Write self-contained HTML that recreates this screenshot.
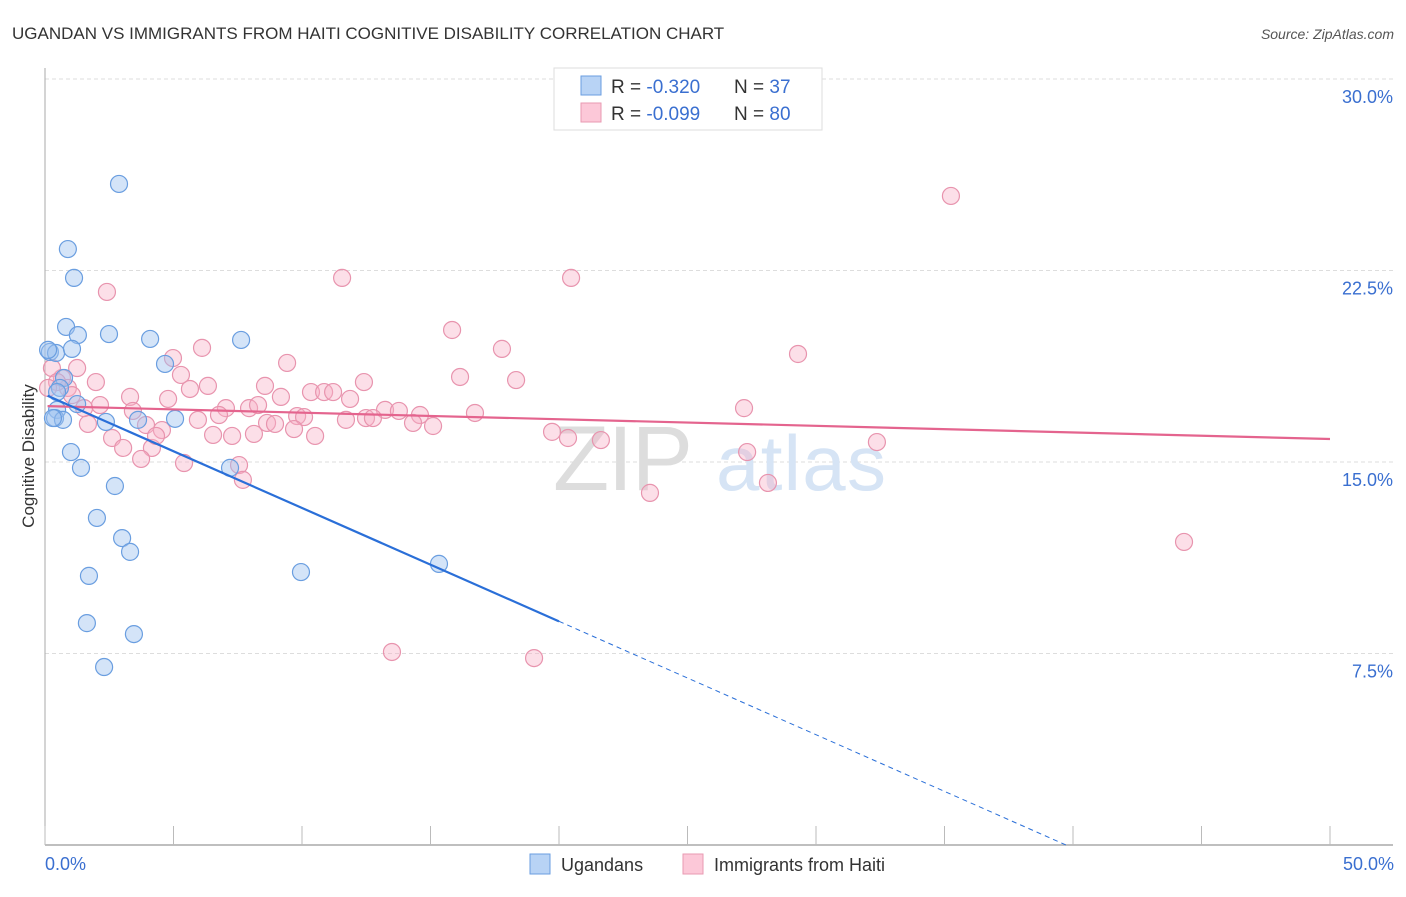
<!DOCTYPE html>
<html><head><meta charset="utf-8"><style>
body{margin:0;background:#fff;font-family:"Liberation Sans",sans-serif;}
svg text{font-family:"Liberation Sans",sans-serif;}
</style></head><body>
<svg id="chart" width="1406" height="892" viewBox="0 0 1406 892" xmlns="http://www.w3.org/2000/svg">
<text x="12" y="39" font-size="17" fill="#333">UGANDAN VS IMMIGRANTS FROM HAITI COGNITIVE DISABILITY CORRELATION CHART</text>
<text x="1394" y="39" font-size="14" fill="#555" text-anchor="end" font-style="italic">Source: ZipAtlas.com</text>
<g id="grid"></g>
<g>
<text x="553" y="490" font-size="92" font-family="Liberation Serif" fill="#ddd" textLength="140">ZIP</text>
<text x="716" y="490" font-size="78" fill="#d6e4f5" textLength="170">atlas</text>
</g>
<line x1="45" y1="68" x2="45" y2="845" stroke="#aaa" stroke-width="1"/>
<line x1="45" y1="845" x2="1393" y2="845" stroke="#aaa" stroke-width="1.5"/>
<g id="xticks"></g>
<g id="pts"></g>
<g id="lines"></g>
<text transform="translate(34,456) rotate(-90)" font-size="17" fill="#333" text-anchor="middle">Cognitive Disability</text>
<text x="45" y="870" font-size="18" fill="#3a6fd0">0.0%</text>
<text x="1394" y="870" font-size="18" fill="#3a6fd0" text-anchor="end">50.0%</text>
<g>
<rect x="554" y="68" width="268" height="62" fill="#fff" stroke="#ddd"/>
<rect x="581" y="76" width="20" height="19" fill="#b8d3f5" stroke="#6a9ee0"/>
<rect x="581" y="103" width="20" height="19" fill="#fcc8d8" stroke="#e89ab2"/>
<text x="611" y="93" font-size="19" fill="#333">R = <tspan fill="#3a6fd0">-0.320</tspan><tspan x="734">N = </tspan><tspan fill="#3a6fd0">37</tspan></text>
<text x="611" y="120" font-size="19" fill="#333">R = <tspan fill="#3a6fd0">-0.099</tspan><tspan x="734">N = </tspan><tspan fill="#3a6fd0">80</tspan></text>
</g>
<g>
<rect x="530" y="854" width="20" height="20" fill="#b8d3f5" stroke="#6a9ee0"/>
<text x="561" y="871" font-size="18" fill="#333">Ugandans</text>
<rect x="683" y="854" width="20" height="20" fill="#fcc8d8" stroke="#e89ab2"/>
<text x="714" y="871" font-size="18" fill="#333">Immigrants from Haiti</text>
</g>
</svg>
<script>
const yTicks=[7.5,15,22.5,30];
const yTickLabels=["7.5%","15.0%","22.5%","30.0%"];
const xTicks=[0,5,10,15,20,25,30,35,40,45,50];
const blueX=[2.88,0.89,1.13,0.82,1.28,2.49,4.09,7.63,0.19,0.43,1.05,4.67,0.74,0.58,0.47,1.25,0.47,0.39,0.70,2.37,3.62,5.06,7.20,1.01,1.40,2.72,2.02,3.00,3.31,1.71,9.96,15.33,1.63,3.46,2.30,0.12,0.31];
const blueY=[25.89,23.34,22.21,20.29,19.97,20.01,19.82,19.78,19.31,19.27,19.43,18.84,18.29,17.90,17.74,17.27,17.04,16.72,16.65,16.57,16.65,16.69,14.77,15.39,14.77,14.06,12.81,12.02,11.48,10.54,10.69,11.01,8.69,8.26,6.97,19.39,16.72];
const pinkX=[2.41,11.56,20.47,35.25,15.84,17.78,29.30,6.11,4.98,9.42,16.15,18.33,5.29,6.34,0.66,1.25,0.27,1.98,0.89,3.31,4.79,5.64,8.56,9.18,10.35,10.86,11.21,12.41,11.87,2.14,3.42,7.04,7.94,8.29,13.23,13.77,14.59,16.73,1.67,3.93,4.55,5.95,6.77,8.64,8.95,9.81,10.08,11.71,12.49,12.76,14.32,15.10,27.20,2.61,3.04,4.16,4.32,6.54,7.28,8.13,9.69,10.51,19.73,20.35,21.63,32.37,3.74,5.41,7.55,7.70,27.32,23.54,28.13,44.32,13.50,19.03,0.47,1.05,1.52,0.12];
const pinkY=[21.66,22.21,22.21,25.42,20.17,19.43,19.23,19.47,19.07,18.88,18.33,18.21,18.41,17.98,18.29,18.68,18.68,18.13,17.90,17.55,17.47,17.86,17.98,17.55,17.74,17.74,17.74,18.13,17.47,17.23,17.00,17.11,17.11,17.23,17.04,17.00,16.84,16.92,16.49,16.45,16.25,16.65,16.84,16.53,16.49,16.80,16.76,16.65,16.72,16.72,16.53,16.41,17.11,15.94,15.55,15.55,16.02,16.06,16.02,16.10,16.29,16.02,16.18,15.94,15.86,15.78,15.12,14.96,14.88,14.30,15.39,13.79,14.18,11.87,7.56,7.32,18.13,17.62,17.11,17.90];
const blueFit=[17.64,-0.444];   // intercept, slope
const pinkFit=[17.19,-0.0258];
const blueSolidEnd=20.0;

const NS="http://www.w3.org/2000/svg";
const xs=v=>45+v*(1285/50);
const ys=v=>845-v*(766/30);
function mk(t,a,p){const e=document.createElementNS(NS,t);for(const k in a)e.setAttribute(k,a[k]);p.appendChild(e);return e;}
const grid=document.getElementById('grid');
yTicks.forEach((t,i)=>{
 const l=mk('line',{x1:45,x2:1393,y1:ys(t),y2:ys(t),stroke:'#ddd','stroke-dasharray':'4,3'},grid);
 
 
 const tx=mk('text',{x:1393,y:ys(t)+24,'font-size':18,fill:'#3a6fd0','text-anchor':'end'},grid);
 tx.textContent=yTickLabels[i];
 
 
});
const xt=document.getElementById('xticks');
xTicks.forEach(t=>{
 const l=mk('line',{x1:xs(t),x2:xs(t),y1:826,y2:845,stroke:'#bbb'},xt);
 
 
});
const pts=document.getElementById('pts');
pinkX.forEach((x,i)=>{
 const c=mk('circle',{cx:xs(x),cy:ys(pinkY[i]),r:8.5,fill:'rgba(248,175,198,0.4)',stroke:'#e894ae','stroke-width':1.2},pts);
 
 
});
blueX.forEach((x,i)=>{
 const c=mk('circle',{cx:xs(x),cy:ys(blueY[i]),r:8.5,fill:'rgba(160,196,240,0.45)',stroke:'#6a9ee0','stroke-width':1.2},pts);
 
 
});
const lg=document.getElementById('lines');
const f=(fit,x)=>fit[0]+fit[1]*x;
let l1=mk('line',{x1:xs(0.1),y1:ys(f(pinkFit,0.1)),x2:xs(50),y2:ys(f(pinkFit,50)),stroke:'#e4648e','stroke-width':2.2},lg);


let l2=mk('line',{x1:xs(0.1),y1:ys(f(blueFit,0.1)),x2:xs(blueSolidEnd),y2:ys(f(blueFit,blueSolidEnd)),stroke:'#2a6fd8','stroke-width':2.2},lg);


const xEnd=-blueFit[0]/blueFit[1];
let l3=mk('line',{x1:xs(blueSolidEnd),y1:ys(f(blueFit,blueSolidEnd)),x2:xs(xEnd),y2:ys(0),stroke:'#2a6fd8','stroke-width':1,'stroke-dasharray':'5,4'},lg);


</script>
</body></html>
